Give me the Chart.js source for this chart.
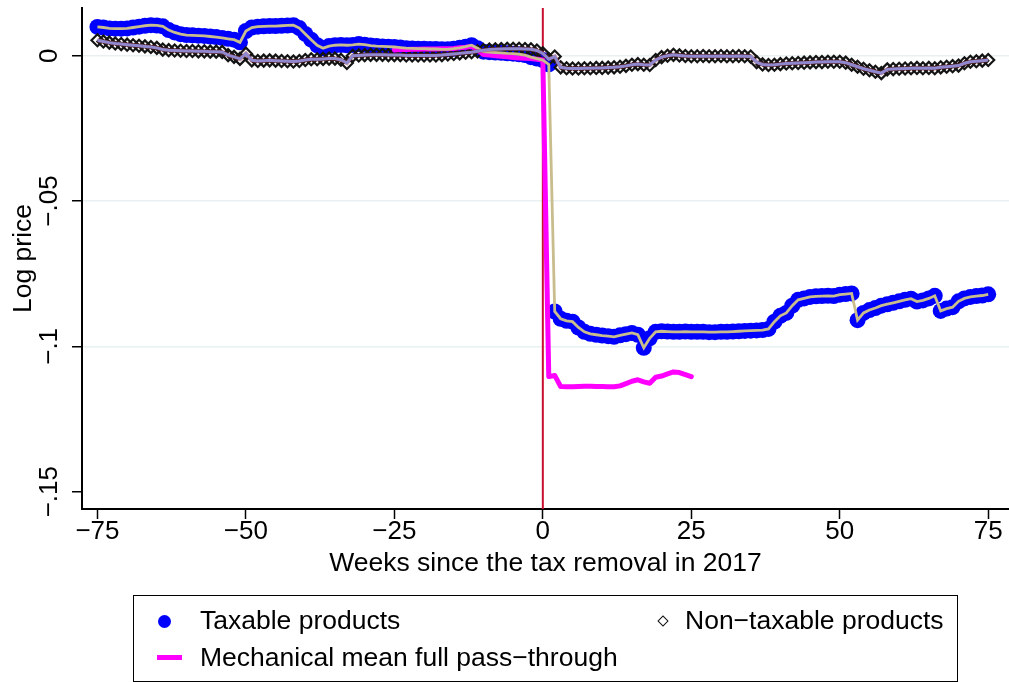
<!DOCTYPE html>
<html>
<head>
<meta charset="utf-8">
<title>Log price around the tax removal</title>
<script src="https://cdn.jsdelivr.net/npm/chart.js@4.4.1/dist/chart.umd.min.js"></script>
<style>
  html, body { margin: 0; padding: 0; background: #fff; }
  #wrap { position: relative; width: 1009px; height: 682px; font-family: "Liberation Sans", Arial, Helvetica, sans-serif; }
  #chartBox { position: absolute; left: 0; top: 0; width: 1009px; height: 682px; }
  .legend-box { position: absolute; left: 133px; top: 595px; width: 825px; height: 87px; border: 1.5px solid #000; box-sizing: border-box; }
  .lg-text { position: absolute; font-size: 26.5px; line-height: 26px; white-space: nowrap; color: #000; }
  .lg-dot { position: absolute; left: 158px; top: 615px; width: 13px; height: 13px; border-radius: 50%; background: #0000ff; }
  .lg-diamond { position: absolute; left: 659px; top: 617px; width: 8px; height: 8px; border: 1.5px solid #111; box-sizing: border-box; transform: rotate(45deg); background: #fff; }
  .lg-line { position: absolute; left: 157px; top: 655px; width: 25px; height: 5px; background: #ff00ff; }
</style>
</head>
<body>
<div id="wrap">
  <div id="chartBox"><canvas id="chart"></canvas></div>
  <div class="legend-box"></div>
  <div class="lg-dot"></div>
  <div class="lg-text" style="left:200px;top:607px;">Taxable products</div>
  <div class="lg-diamond"></div>
  <div class="lg-text" style="left:685px;top:607px;">Non−taxable products</div>
  <div class="lg-line"></div>
  <div class="lg-text" style="left:200px;top:644px;">Mechanical mean full pass−through</div>
</div>
<script>
// Weeks relative to the tax removal (week 0)
const weeks = [
  -75,-74,-73,-72,-71,-70,-69,-68,-67,-66,-65,-64,-63,-62,-61,-60,-59,-58,-57,-56,-55,-54,-53,-52,-51,
  -50,-49,-48,-47,-46,-45,-44,-43,-42,-41,-40,-39,-38,-37,-36,-35,-34,-33,-32,-31,-30,-29,-28,-27,-26,
  -25,-24,-23,-22,-21,-20,-19,-18,-17,-16,-15,-14,-13,-12,-11,-10,-9,-8,-7,-6,-5,-4,-3,-2,-1,
  0,
  1,2,3,4,5,6,7,8,9,10,11,12,13,14,15,16,17,18,19,20,21,22,23,24,25,
  26,27,28,29,30,31,32,33,34,35,36,37,38,39,40,41,42,43,44,45,46,47,48,49,50,
  51,52,53,54,55,56,57,58,59,60,61,62,63,64,65,66,67,68,69,70,71,72,73,74,75
];

// Mean log price, taxable products
const taxable = [
  0.0099,0.0097,0.0094,0.0093,0.0093,0.0094,0.0097,0.0100,0.0103,0.0105,0.0104,0.0101,0.0088,0.0080,0.0074,0.0071,0.0070,0.0069,0.0068,0.0066,0.0064,0.0061,0.0058,0.0055,0.0046,
  0.0085,0.0097,0.0100,0.0101,0.0102,0.0102,0.0103,0.0104,0.0105,0.0095,0.0075,0.0055,0.0036,0.0026,0.0033,0.0036,0.0037,0.0036,0.0037,0.0040,0.0038,0.0035,0.0033,0.0032,0.0031,
  0.0030,0.0028,0.0026,0.0025,0.0024,0.0024,0.0023,0.0023,0.0022,0.0022,0.0024,0.0027,0.0031,0.0036,0.0026,0.0014,0.0012,0.0011,0.0010,0.0008,0.0007,0.0005,0.0002,-0.0005,-0.0010,
  -0.0015,
  -0.0030,-0.0880,-0.0905,-0.0912,-0.0915,-0.0935,-0.0950,-0.0957,-0.0960,-0.0963,-0.0965,-0.0967,-0.0962,-0.0958,-0.0954,-0.0960,-0.1005,-0.0972,-0.0950,-0.0948,-0.0949,-0.0950,-0.0950,-0.0949,-0.0950,
  -0.0950,-0.0950,-0.0951,-0.0951,-0.0950,-0.0950,-0.0949,-0.0948,-0.0947,-0.0946,-0.0945,-0.0944,-0.0940,-0.0915,-0.0895,-0.0885,-0.0860,-0.0840,-0.0835,-0.0830,-0.0828,-0.0827,-0.0826,-0.0827,-0.0822,
  -0.0820,-0.0818,-0.0910,-0.0885,-0.0875,-0.0868,-0.0860,-0.0855,-0.0850,-0.0845,-0.0840,-0.0836,-0.0846,-0.0842,-0.0835,-0.0826,-0.0878,-0.0870,-0.0865,-0.0845,-0.0835,-0.0830,-0.0827,-0.0825,-0.0821
];

// Mean log price, non-taxable products
const nonTaxable = [
  0.0053,0.0049,0.0045,0.0042,0.0040,0.0038,0.0036,0.0034,0.0032,0.0030,0.0027,0.0021,0.0019,0.0018,0.0017,0.0016,0.0016,0.0015,0.0015,0.0014,0.0014,0.0013,0.0002,-0.0004,-0.0011,
  0.0007,-0.0016,-0.0018,-0.0017,-0.0016,-0.0017,-0.0018,-0.0019,-0.0020,-0.0018,-0.0015,-0.0012,-0.0012,-0.0011,-0.0010,-0.0010,-0.0014,-0.0025,0.0000,0.0001,0.0002,0.0003,0.0003,0.0003,0.0002,
  0.0002,0.0002,0.0001,0.0001,0.0001,0.0001,0.0001,0.0001,0.0002,0.0004,0.0006,0.0008,0.0010,0.0012,0.0015,0.0019,0.0021,0.0022,0.0023,0.0024,0.0024,0.0024,0.0023,0.0022,0.0018,
  0.0008,
  -0.0012,-0.0003,-0.0040,-0.0043,-0.0044,-0.0044,-0.0043,-0.0043,-0.0042,-0.0042,-0.0041,-0.0040,-0.0038,-0.0035,-0.0031,-0.0029,-0.0031,-0.0032,-0.0015,-0.0005,0.0000,0.0003,0.0001,-0.0001,-0.0002,
  -0.0002,-0.0001,-0.0002,-0.0002,-0.0001,-0.0002,-0.0002,-0.0001,-0.0002,-0.0003,-0.0022,-0.0030,-0.0032,-0.0031,-0.0029,-0.0027,-0.0026,-0.0025,-0.0024,-0.0023,-0.0022,-0.0022,-0.0021,-0.0021,-0.0021,
  -0.0024,-0.0031,-0.0038,-0.0045,-0.0050,-0.0055,-0.0060,-0.0047,-0.0046,-0.0045,-0.0044,-0.0043,-0.0042,-0.0043,-0.0042,-0.0043,-0.0040,-0.0038,-0.0036,-0.0034,-0.0026,-0.0021,-0.0019,-0.0017,-0.0015
];

// Mechanical mean price under full pass-through, weeks -25..25
const mechWeeks = [
  -25,-24,-23,-22,-21,-20,-19,-18,-17,-16,-15,-14,-13,-12,-11,-10,-9,-8,-7,-6,-5,-4,-3,-2,-1,
  0,
  1,2,3,4,5,6,7,8,9,10,11,12,13,14,15,16,17,18,19,20,21,22,23,24,25
];
const mechValues = [
  0.0020,0.0021,0.0021,0.0022,0.0022,0.0023,0.0023,0.0023,0.0024,0.0024,0.0025,0.0027,0.0029,0.0032,0.0020,0.0004,0.0002,0.0000,-0.0002,-0.0004,-0.0006,-0.0008,-0.0009,-0.0010,-0.0012,
  -0.0015,
  -0.1104,-0.1100,-0.1138,-0.1139,-0.1139,-0.1138,-0.1137,-0.1137,-0.1138,-0.1138,-0.1139,-0.1139,-0.1136,-0.1128,-0.1120,-0.1115,-0.1122,-0.1127,-0.1106,-0.1102,-0.1095,-0.1088,-0.1090,-0.1097,-0.1104
];

// Week of the tax removal
const taxWeek = 0;

// Axis ticks
const xTickValues = [-75, -50, -25, 0, 25, 50, 75];
const xTickLabels = ["−75", "−50", "−25", "0", "25", "50", "75"];
const yTickValues = [0, -0.05, -0.1, -0.15];
const yTickLabels = ["0", "−.05", "−.1", "−.15"];

const FONT = '"Liberation Sans", Arial, Helvetica, sans-serif';
Chart.defaults.font.family = FONT;
Chart.defaults.color = '#000';

const toPoints = (xs, ys) => xs.map((x, i) => ({ x: x, y: ys[i] }));
const taxPts = toPoints(weeks, taxable);
const nonTaxPts = toPoints(weeks, nonTaxable);
const mechPts = toPoints(mechWeeks, mechValues);

// Event line, rotated y tick labels
const decor = {
  id: 'decor',
  beforeDatasetsDraw(chart) {
    const { ctx, chartArea, scales } = chart;
    const px = scales.x.getPixelForValue(taxWeek);
    ctx.save();
    ctx.strokeStyle = '#c8102e';
    ctx.lineWidth = 2;
    ctx.beginPath();
    ctx.moveTo(px, chartArea.top);
    ctx.lineTo(px, chartArea.bottom);
    ctx.stroke();
    ctx.restore();
  },
  afterDraw(chart) {
    const { ctx, scales } = chart;
    const y = scales.y;
    ctx.save();
    ctx.font = '26px ' + FONT;
    ctx.fillStyle = '#000';
    ctx.textAlign = 'center';
    ctx.textBaseline = 'alphabetic';
    y.ticks.forEach((t, i) => {
      const py = y.getPixelForValue(t.value);
      ctx.save();
      ctx.translate(57, py);
      ctx.rotate(-Math.PI / 2);
      ctx.fillText(yTickLabels[i], 0, 0);
      ctx.restore();
    });
    ctx.restore();
  }
};

new Chart(document.getElementById('chart'), {
  type: 'scatter',
  data: {
    datasets: [
      { // lavender connecting line, non-taxable
        data: nonTaxPts, showLine: true, pointRadius: 0,
        borderColor: '#8f88cf', borderWidth: 3, order: 1
      },
      { // darker underlay of the non-taxable line
        data: nonTaxPts, showLine: true, pointRadius: 0,
        borderColor: 'rgba(150,40,50,0.45)', borderWidth: 4.5, order: 2
      },
      { // khaki connecting line, taxable
        data: taxPts, showLine: true, pointRadius: 0,
        borderColor: '#c9bd8e', borderWidth: 2.8, order: 3
      },
      { // mechanical full pass-through
        data: mechPts, showLine: true, pointRadius: 0,
        borderColor: '#ff00ff', borderWidth: 5,
        borderCapStyle: 'round', borderJoinStyle: 'round', order: 4
      },
      { // non-taxable markers (hollow diamonds)
        data: nonTaxPts, showLine: false,
        pointStyle: 'rectRot', pointRadius: 6,
        pointBackgroundColor: 'rgba(255,255,255,0)', pointBorderColor: '#141414', pointBorderWidth: 2.2,
        order: 5
      },
      { // taxable markers
        data: taxPts, showLine: false,
        pointStyle: 'circle', pointRadius: 8,
        pointBackgroundColor: '#0000ff', pointBorderColor: '#0000ff', pointBorderWidth: 0,
        order: 6
      }
    ]
  },
  options: {
    responsive: true,
    maintainAspectRatio: false,
    animation: false,
    events: [],
    layout: { autoPadding: false, padding: { top: 8, left: 0, right: 0, bottom: 0 } },
    plugins: { legend: { display: false }, tooltip: { enabled: false } },
    scales: {
      x: {
        type: 'linear', position: 'bottom',
        min: -77.6, max: 78.5,
        afterBuildTicks: (s) => { s.ticks = xTickValues.map(v => ({ value: v })); },
        afterFit: (s) => { s.height = 173; s.paddingLeft = 0; s.paddingRight = 0; },
        ticks: {
          autoSkip: false, maxRotation: 0, minRotation: 0, padding: 0,
          font: { size: 26, lineHeight: 1 }, color: '#000',
          callback: (v, i) => xTickLabels[i]
        },
        grid: { drawOnChartArea: false, drawTicks: true, tickLength: 10, tickColor: '#000', tickWidth: 1.5 },
        border: { display: true, color: '#000', width: 2 },
        title: {
          display: true, text: 'Weeks since the tax removal in 2017',
          font: { size: 26.5, lineHeight: 1 }, color: '#000',
          padding: { top: 0, bottom: 105 }
        }
      },
      y: {
        type: 'linear', position: 'left',
        min: -0.15595, max: 0.01641,
        afterBuildTicks: (s) => { s.ticks = yTickValues.map(v => ({ value: v })); },
        afterFit: (s) => { s.width = 82; s.paddingTop = 0; s.paddingBottom = 0; },
        ticks: { display: false },
        grid: {
          drawTicks: true, tickLength: 10, tickColor: '#000', tickWidth: 1.5, lineWidth: 1.5,
          color: (c) => (c.tick && c.tick.value === -0.15) ? 'rgba(0,0,0,0)' : '#e8f0f2'
        },
        border: { display: true, color: '#000', width: 2 },
        title: {
          display: true, text: 'Log price',
          font: { size: 26.5, lineHeight: 1 }, color: '#000',
          padding: { top: 10, bottom: 0 }
        }
      }
    }
  },
  plugins: [decor]
});
</script>
</body>
</html>
